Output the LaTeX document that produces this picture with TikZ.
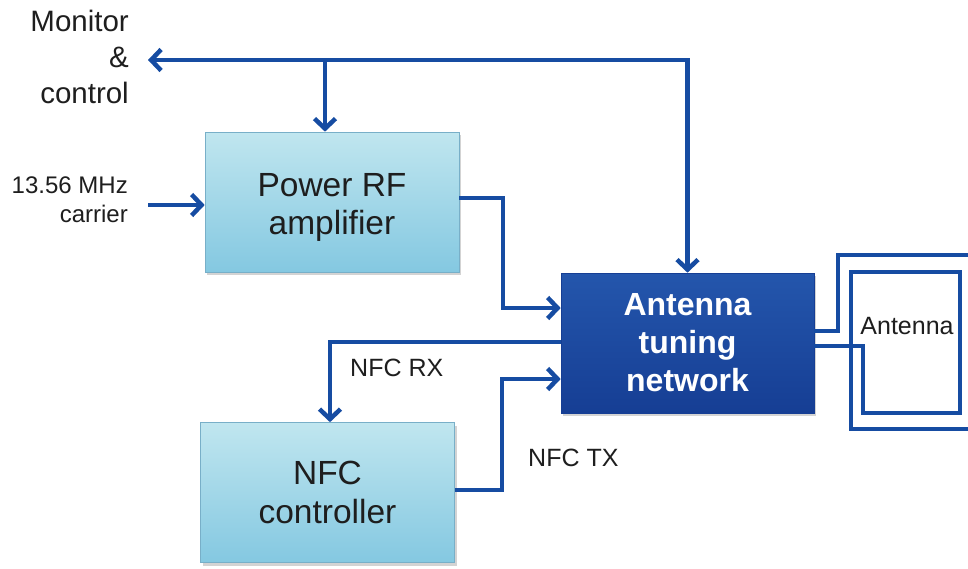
\documentclass[tikz,border=0pt]{standalone}
\usepackage{fontspec}
\setmainfont{Liberation Sans}
\usetikzlibrary{arrows.meta,shadows}
\definecolor{lineblue}{RGB}{22,76,162}
\definecolor{txt}{RGB}{30,30,30}
\definecolor{lbtop}{RGB}{192,230,239}
\definecolor{lbbot}{RGB}{132,200,225}
\definecolor{lbedge}{RGB}{120,175,200}
\definecolor{dbtop}{RGB}{36,86,172}
\definecolor{dbbot}{RGB}{22,62,148}
\begin{document}
\begin{tikzpicture}[x=1pt,y=-1pt,
  conn/.style={draw=lineblue,line width=4.5pt,line join=miter},
  arr/.style={conn,-{Straight Barb[length=10pt,width=21pt]}},
  lightbox/.style={rectangle,minimum width=254pt,minimum height=140pt,
    top color=lbtop,bottom color=lbbot,draw=lbedge,line width=0.6pt,
    drop shadow={shadow xshift=2pt,shadow yshift=-3pt,opacity=0.35},
    text=txt,align=center,font=\fontsize{33.5}{39}\selectfont},
  darkbox/.style={rectangle,minimum width=253pt,minimum height=140pt,
    top color=dbtop,bottom color=dbbot,draw=dbbot,line width=0.6pt,
    drop shadow={shadow xshift=2pt,shadow yshift=-3pt,opacity=0.35},
    text=white,align=center,font=\bfseries\fontsize{32}{38}\selectfont},
  lbl/.style={text=txt,inner sep=0pt,font=\fontsize{25}{30}\selectfont},
  sidelbl/.style={text=txt,inner sep=0pt,align=right},
]
\useasboundingbox (0,0) rectangle (968,568);

\node[lightbox] (prf) at (332,202) {\raisebox{-6pt}[\height][\depth]{\begin{tabular}{@{}c@{}}Power RF\\[-1pt]amplifier\end{tabular}}};
\node[darkbox] (atn) at (687.5,343) {Antenna\\tuning\\network};
\node[lightbox] (nfc) at (327.5,492.5) {NFC\\controller};

\node[sidelbl,anchor=east,font=\fontsize{29.5}{36}\selectfont] (mon) at (129,57) {Monitor\\\&\\control};
\node[sidelbl,anchor=east,font=\fontsize{24}{29}\selectfont] (car) at (128,200) {13.56 MHz\\carrier};
\node[lbl,anchor=west] (rx) at (350,368) {NFC RX};
\node[lbl,anchor=west] (tx) at (528,458) {NFC TX};
\node[lbl] (ant) at (907,326) {Antenna};

\coordinate (mc) at (148,60);
\coordinate (cc) at (148,205);
\coordinate (e1) at (970,255);
\coordinate (e2) at (970,429);

% monitor & control bus
\draw[conn,{Straight Barb[length=10pt,width=21pt]}-{Straight Barb[length=10pt,width=21pt]}]
  (mc) -- (atn.north |- mc) -- (atn.north);
\draw[arr] (325,60) -- ([xshift=-7pt]prf.north);

% carrier
\draw[arr] (cc) -- (cc -| prf.west);

% PRF -> ATN
\draw[arr] ([yshift=4pt]prf.east) -- (503,198) -- (503,308) -- ([yshift=35pt]atn.west);

% NFC RX
\draw[arr] ([yshift=1pt]atn.west) -- (330,342) -- ([xshift=2.5pt]nfc.north);

% NFC TX
\draw[arr] ([yshift=2.5pt]nfc.east) -- (502,490) -- (502,379) -- ([yshift=-36pt]atn.west);

% antenna loops
\draw[conn] ([yshift=12pt]atn.east) -- (838,331) -- (838,255) -- (e1);
\draw[conn] ([yshift=-3pt]atn.east) -- (863,346) -- (863,413) -- (960,413)
  -- (960,272) -- (851,272) -- (851,429) -- (e2);
\end{tikzpicture}
\end{document}
